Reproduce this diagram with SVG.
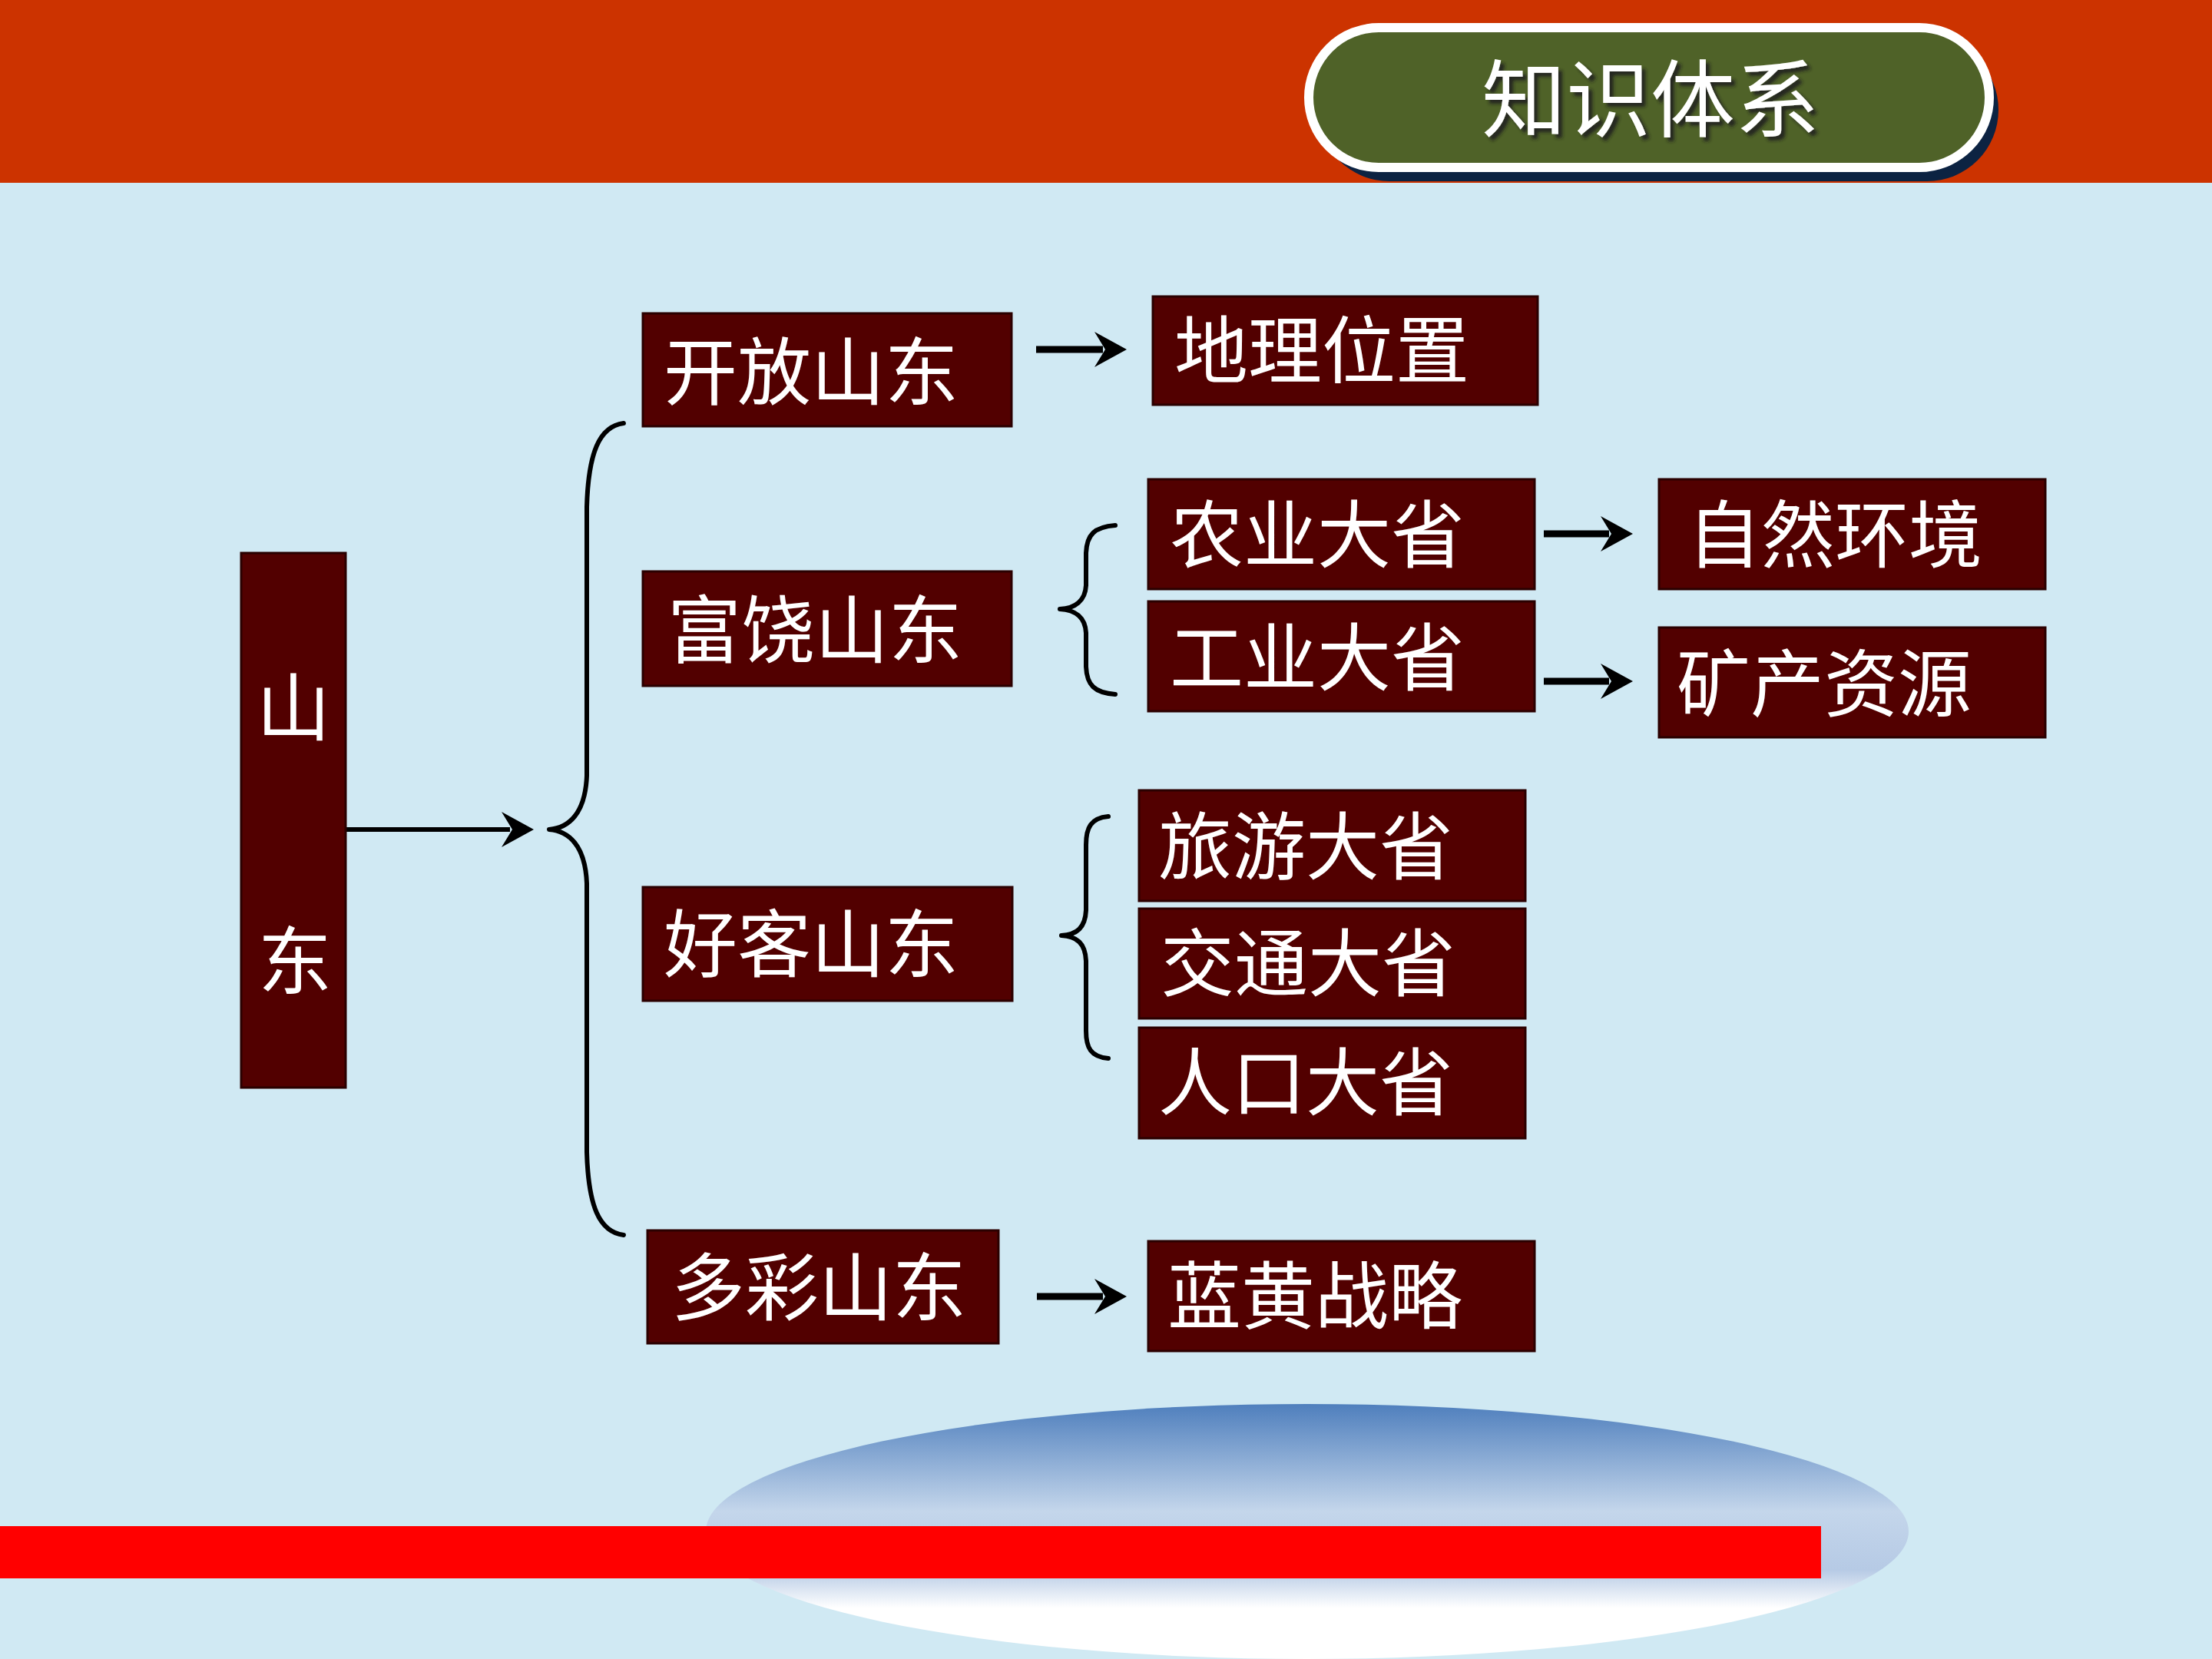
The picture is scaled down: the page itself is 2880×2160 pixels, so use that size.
<svg xmlns="http://www.w3.org/2000/svg" width="2880" height="2160" viewBox="0 0 2880 2160">
<defs>
<style>
.box{fill:#520000;stroke:#2a0000;stroke-width:3}
.lbl{font-family:"Noto Sans CJK SC","Noto Sans CJK TC",sans-serif;font-size:96px;fill:#ffffff;dominant-baseline:central}
.conn{stroke:#000000;fill:none;stroke-linecap:butt}
.brace{stroke:#000000;fill:none;stroke-width:6;stroke-linecap:round;stroke-linejoin:round}
</style>
<marker id="ah" markerUnits="userSpaceOnUse" viewBox="-14 -26 48 52" refX="0" refY="0" markerWidth="48" markerHeight="52" orient="auto">
<path d="M31,0 L-11,-23 L3,0 L-11,23 Z" fill="#000000"/>
</marker>
<linearGradient id="eg" x1="0" y1="0" x2="0" y2="1">
<stop offset="0" stop-color="#4f7fbd"/>
<stop offset="0.42" stop-color="#c4d6eb"/>
<stop offset="0.65" stop-color="#b6cae5"/>
<stop offset="0.8" stop-color="#ffffff"/>
<stop offset="1" stop-color="#ffffff"/>
</linearGradient>
<filter id="ts" x="-10%" y="-10%" width="120%" height="130%">
<feDropShadow dx="5" dy="5" stdDeviation="2" flood-color="#1a1a1a" flood-opacity="0.9"/>
</filter>
</defs>

<rect x="0" y="0" width="2880" height="2160" fill="#d0e9f3"/>
<rect x="0" y="0" width="2880" height="238" fill="#cc3300"/>

<g id="title">
<rect x="1716" y="50" width="886" height="186" rx="93" fill="#0c2342"/>
<rect x="1704" y="36" width="886" height="182" rx="91" fill="#4f6228" stroke="#ffffff" stroke-width="12"/>
<text x="2149" y="122" text-anchor="middle" font-family="Noto Sans CJK SC, sans-serif" font-size="110" fill="#ffffff" dominant-baseline="central" filter="url(#ts)">知识体系</text>
</g>

<g id="decor">
<ellipse cx="1702" cy="1994" rx="783" ry="166" fill="url(#eg)"/>
<rect x="0" y="1987" width="2371" height="68" fill="#ff0000"/>
</g>

<g id="connectors">
<line class="conn" x1="450" y1="1080" x2="664" y2="1080" stroke-width="6" marker-end="url(#ah)"/>
<line class="conn" x1="1349" y1="455" x2="1436" y2="455" stroke-width="9" marker-end="url(#ah)"/>
<line class="conn" x1="2010" y1="695" x2="2095" y2="695" stroke-width="9" marker-end="url(#ah)"/>
<line class="conn" x1="2010" y1="887" x2="2095" y2="887" stroke-width="9" marker-end="url(#ah)"/>
<line class="conn" x1="1350" y1="1688" x2="1436" y2="1688" stroke-width="9" marker-end="url(#ah)"/>
<path class="brace" d="M812,551 C780,555 766,590 764,660 L764,1010 C762,1060 740,1078 715,1080 C740,1082 762,1100 764,1150 L764,1500 C766,1570 780,1604 812,1608"/>
<path class="brace" d="M1452,684 C1425,686 1415,696 1414,720 L1414,762 C1413,782 1400,792 1380,793 C1400,794 1413,804 1414,824 L1414,868 C1415,892 1425,902 1452,904"/>
<path class="brace" d="M1443,1063 C1420,1065 1414,1078 1414,1100 L1414,1185 C1413,1208 1402,1217 1382,1218 C1402,1219 1413,1228 1414,1251 L1414,1342 C1414,1364 1420,1376 1443,1378"/>
</g>

<g id="n-shandong">
<rect class="box" x="314" y="720" width="136" height="696"/>
<text class="lbl" x="382" y="914" text-anchor="middle">山</text>
<text class="lbl" x="384" y="1244" text-anchor="middle">东</text>
</g>
<g id="n-kaifang"><rect class="box" x="837" y="408" width="480" height="147"/><text class="lbl" x="864" y="477">开放山东</text></g>
<g id="n-furao"><rect class="box" x="837" y="744" width="480" height="149"/><text class="lbl" x="869" y="813">富饶山东</text></g>
<g id="n-haoke"><rect class="box" x="837" y="1155" width="481" height="148"/><text class="lbl" x="864" y="1222">好客山东</text></g>
<g id="n-duocai"><rect class="box" x="843" y="1602" width="457" height="147"/><text class="lbl" x="874" y="1669">多彩山东</text></g>
<g id="n-dili"><rect class="box" x="1501" y="386" width="501" height="141"/><text class="lbl" x="1529" y="449">地理位置</text></g>
<g id="n-nongye"><rect class="box" x="1495" y="624" width="503" height="143"/><text class="lbl" x="1523" y="689">农业大省</text></g>
<g id="n-gongye"><rect class="box" x="1495" y="783" width="503" height="143"/><text class="lbl" x="1523" y="849">工业大省</text></g>
<g id="n-ziran"><rect class="box" x="2160" y="624" width="503" height="143"/><text class="lbl" x="2197" y="689">自然环境</text></g>
<g id="n-kuangchan"><rect class="box" x="2160" y="817" width="503" height="143"/><text class="lbl" x="2183" y="883">矿产资源</text></g>
<g id="n-lvyou"><rect class="box" x="1483" y="1029" width="503" height="144"/><text class="lbl" x="1508" y="1095">旅游大省</text></g>
<g id="n-jiaotong"><rect class="box" x="1483" y="1183" width="503" height="143"/><text class="lbl" x="1511" y="1247">交通大省</text></g>
<g id="n-renkou"><rect class="box" x="1483" y="1338" width="503" height="144"/><text class="lbl" x="1508" y="1402">人口大省</text></g>
<g id="n-lanhuang"><rect class="box" x="1495" y="1616" width="503" height="143"/><text class="lbl" x="1520" y="1680">蓝黄战略</text></g>
</svg>
